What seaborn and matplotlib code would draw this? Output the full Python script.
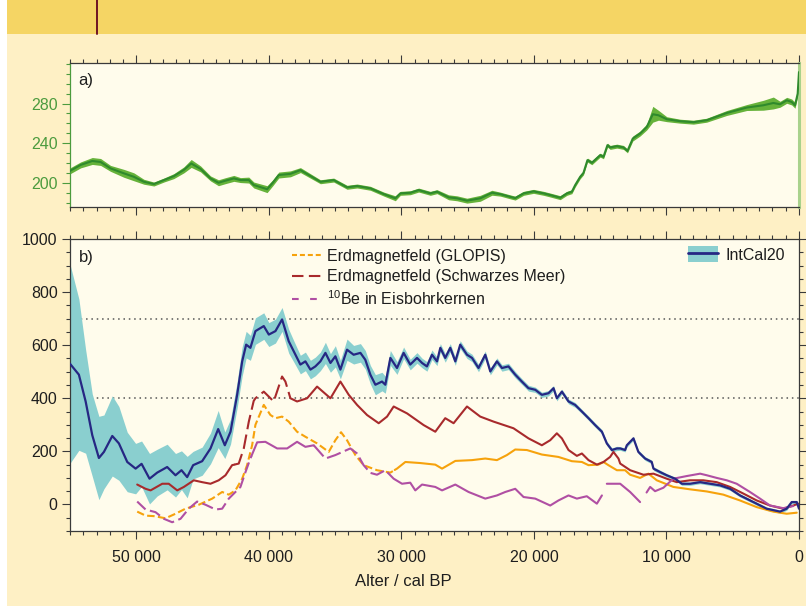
import numpy as np
import matplotlib
matplotlib.use("Agg")
import matplotlib.pyplot as plt
from matplotlib.patches import Rectangle, Patch
from matplotlib.lines import Line2D
from matplotlib.ticker import MultipleLocator, FuncFormatter, FixedLocator
import seaborn as sns

sns.set_theme(style="white")
plt.rcParams["font.family"] = ["Liberation Sans", "DejaVu Sans"]
plt.rcParams["mathtext.fontset"] = "custom"
plt.rcParams["mathtext.rm"] = "Liberation Sans"
plt.rcParams["lines.solid_joinstyle"] = "round"
plt.rcParams["lines.dash_joinstyle"] = "round"

# ---------------- data ----------------
# panel a) (green curve with uncertainty band)
top_age = [55000, 54200, 53320, 52690, 51940, 50930, 50180, 49425, 48670, 47920,
           47165, 46410, 45855, 45150, 44400, 43800, 43300, 42640, 42140, 41510,
           41130, 40130, 39700, 39250, 38370, 37615, 36110, 35105, 34095, 33340,
           32340, 31335, 30455, 30075, 29325, 28695, 27815, 27310, 26435, 25805,
           25050, 24045, 23165, 22540, 21660, 21410, 20780, 20030, 19270, 18770,
           18015, 17510, 17135, 16885, 16510, 16260, 15960, 15630, 15000, 14750,
           14450, 14245, 13740, 13245, 12940, 12540, 11985, 11485, 11030, 10605,
           9975, 8970, 7965, 6960, 5450, 3940, 2690, 1935, 1430, 925,
           550, 300, 100, 0]
top_val = [212, 218, 222, 221, 214.5, 209.5, 206, 201, 198.7, 202.7,
           206.7, 213, 219.5, 214, 204.4, 200, 202, 204.4, 202.7, 202.7,
           197.7, 193.5, 200, 207.8, 209, 212.8, 201, 202.7, 195.4, 196.7,
           194.4, 188.6, 184.3, 189.3, 189.9, 192.6, 189.3, 191, 185.3, 184.3,
           181.9, 184.3, 189.9, 188.5, 185.3, 184.5, 189.3, 191.3, 189.3, 187.6,
           184.9, 189.3, 191, 197.7, 206, 210, 222.9, 220.2, 227.9, 226.2,
           238, 235.7, 237, 235.7, 232.2, 244.7, 249.8, 256.4, 269.2, 268.2,
           264.2, 262.2, 261.2, 263.2, 270.5, 276, 278.3, 280.6, 279.3, 283.3,
           281.6, 278.3, 290, 311.8]
top_sigma = [3, 3, 3.5, 3.5, 3, 4, 4, 2.5, 2, 2,
             2.5, 3, 4, 3, 2.5, 3, 3, 3, 2.5, 3,
             3, 3.5, 3, 3, 3, 2.5, 2, 2, 2, 2,
             2, 2, 2.5, 2, 2, 2, 2, 2, 2.5, 2.5,
             2.5, 3, 2.5, 2, 2, 2, 2, 2, 2, 2,
             2, 2, 2, 2, 2, 2, 2, 2, 2, 2,
             2, 2, 2, 2, 2, 2.5, 2.5, 3, 8, 5,
             2.5, 2, 2, 2, 2.5, 3, 5, 6, 3, 3,
             3, 3, 3, 3]

# panel b) IntCal20 mean and 1-sigma
intcal_age = [55000, 54330, 53820, 53320, 52820, 52440, 51810, 51310, 50680, 50050,
              49600, 49000, 48420, 47670, 47040, 46590, 46160, 45710, 45030, 44400,
              43820, 43320, 42890, 42390, 42010, 41710, 41390, 41010, 40380, 40000,
              39500, 39000, 38500, 38120, 37620, 37240, 36860, 36490, 36110, 35730,
              35350, 34980, 34600, 34100, 33600, 33090, 32720, 32340, 31960, 31460,
              31210, 30830, 30330, 29830, 29330, 28820, 28440, 28070, 27690, 27310,
              27060, 26690, 26310, 25930, 25560, 25050, 24670, 24180, 23670, 23290,
              22790, 22410, 21920, 21410, 20910, 20410, 19900, 19400, 18900, 18520,
              18270, 17890, 17390, 16890, 16380, 15880, 15380, 14870, 14500, 14120,
              13740, 13490, 13120, 12990, 12490, 12120, 11610, 11110, 10980, 10480,
              9980, 9350, 8840, 8220, 7460, 6710, 5960, 5200, 4450, 3440,
              2440, 1430, 930, 550, 170, 0]
intcal_mean = [530, 489, 388, 261, 175, 198, 258, 230, 160, 135,
               153, 97, 120, 141, 110, 129, 103, 148, 163, 211,
               284, 223, 274, 413, 539, 602, 590, 653, 672, 640,
               653, 697, 615, 577, 527, 539, 508, 520, 539, 571,
               533, 558, 508, 583, 564, 571, 545, 489, 451, 463,
               451, 552, 514, 571, 527, 552, 533, 520, 564, 539,
               590, 552, 590, 539, 602, 564, 552, 514, 564, 501,
               539, 514, 520, 489, 463, 438, 432, 413, 419, 438,
               400, 425, 388, 375, 350, 325, 299, 274, 230, 205,
               211, 211, 205, 223, 249, 198, 173, 160, 135, 122,
               110, 97, 78, 78, 84, 78, 72, 59, 34, 9,
               -16, -27, -16, 9, 9, -16]
intcal_sigma = [375, 285, 195, 155, 157, 139, 151, 139, 112, 95,
                86, 95, 88, 86, 82, 73, 78, 52, 53, 58,
                70, 50, 47, 49, 55, 50, 47, 50, 50, 45,
                45, 45, 45, 40, 35, 35, 35, 35, 35, 40,
                35, 40, 35, 40, 35, 35, 35, 35, 38, 35,
                32, 28, 24, 22, 20, 20, 18, 18, 18, 16,
                16, 16, 16, 15, 15, 14, 14, 14, 14, 13,
                13, 12, 12, 12, 11, 11, 10, 10, 10, 10,
                10, 9, 9, 9, 8, 8, 8, 8, 8, 8,
                8, 7, 7, 7, 7, 7, 7, 7, 7, 7,
                6, 6, 6, 6, 6, 6, 6, 6, 6, 6,
                6, 6, 6, 6, 6, 6]

# geomagnetic field reconstruction GLOPIS
glopis_age = [49930, 49300, 48670, 47790, 47040, 46290, 45280, 44270, 43520, 43020,
              42520, 42010, 41640, 41260, 41010, 40380, 39880, 39500, 39000, 38500,
              37870, 37240, 36360, 35480, 34980, 34550, 34100, 33470, 32850, 31840,
              30830, 30330, 29700, 28570, 27440, 26930, 25930, 24670, 23670, 22790,
              22040, 21410, 20530, 19400, 18150, 17140, 16380, 15880, 15130, 14750,
              14380, 13740, 13120, 12740, 11990, 11360, 10730, 9480, 8220, 6960,
              5710, 4450, 3190, 1940, 930, 170]
glopis_val = [-27, -42, -44, -52, -35, -16, -1, 22, 47, 37,
              53, 97, 148, 223, 300, 375, 337, 325, 331, 312,
              274, 255, 230, 198, 242, 272, 242, 186, 148, 129,
              120, 135, 160, 156, 150, 135, 164, 167, 173, 167,
              186, 207, 205, 188, 179, 163, 160, 148, 150, 160,
              148, 129, 129, 112, 100, 116, 91, 66, 57, 49,
              37, 15, -10, -27, -35, -31]

# geomagnetic field, Black Sea record
bsea_age = [49930, 49300, 48920, 48040, 47550, 46910, 46410, 45660, 45030, 44400,
            43780, 43270, 42770, 42270, 41890, 41510, 41140, 41010, 40380, 39630,
            39000, 38750, 38370, 37870, 37110, 36360, 35350, 34600, 33970, 33340,
            32590, 31710, 31080, 30580, 29570, 28320, 27440, 26690, 26060, 25050,
            24050, 23040, 21540, 20410, 19400, 18770, 18270, 17890, 17390, 16760,
            16380, 15880, 15250, 14750, 14250, 14000, 13620, 13490, 12740, 11740,
            10980, 9980, 9220, 8220, 7220, 6210, 5200, 4200, 3190, 2190,
            1190, 430, 50]
bsea_val = [75, 59, 53, 78, 78, 53, 66, 91, 84, 78,
            91, 110, 148, 154, 211, 312, 390, 400, 425, 388,
            482, 463, 400, 388, 400, 444, 400, 463, 413, 375,
            337, 306, 331, 369, 343, 299, 274, 325, 306, 369,
            331, 312, 287, 249, 223, 242, 268, 249, 205, 183,
            192, 167, 150, 160, 179, 198, 173, 154, 129, 112,
            116, 97, 84, 91, 91, 84, 66, 41, 15, -4,
            -16, -4, 3]

# 10Be from ice cores
be10_age = [49930, 49300, 48550, 47920, 47290, 46660, 46040, 45410, 44780, 44020,
            43520, 43020, 42520, 42140, 41760, 41390, 40880, 40260, 39370, 38620,
            37870, 37240, 36610, 35730, 34980, 33850, 33340, 32850, 32340, 31840,
            31210, 30580, 29950, 29330, 28950, 28440, 27440, 26930, 25930, 24930,
            23670, 22790, 22160, 21410, 20780, 19900, 18770, 18150, 17390, 16760,
            16010, 15250, 14870, 14500, 13870, 13490, 12740, 11990, 11500, 11230,
            10860, 10230, 9480, 8470, 7460, 6960, 6210, 5450, 4700, 3700,
            2940, 2190, 1190, 430]
be10_val = [11, -19, -29, -54, -67, -54, -16, 11, -1, -19,
            -16, 22, 47, 66, 122, 173, 234, 236, 211, 211,
            236, 217, 223, 173, 186, 211, 192, 148, 119, 112,
            129, 97, 78, 82, 53, 75, 66, 53, 75, 47,
            22, 34, 47, 59, 28, 22, -4, 15, 34, 22,
            31, 3, 34, 78, 78, 78, 47, 9, 45, 66,
            50, 63, 97, 107, 116, 110, 100, 91, 78, 47,
            22, -4, -14, -6]

guide_levels = [400, 700]
xtick_major = [50000, 40000, 30000, 20000, 10000, 0]

series_labels = ["Erdmagnetfeld (GLOPIS)", "Erdmagnetfeld (Schwarzes Meer)",
                 r"$^{\mathregular{10}}$Be in Eisbohrkernen", "IntCal20"]

# ---------------- colours ----------------
C_BLUE = "#262783"
C_BAND = "#8ACFCF"
C_RED = "#A82A2C"
C_ORANGE = "#F6A20C"
C_MAG = "#B04FA3"
C_GREEN = "#2F8A2C"
C_GREEN_BAND = "#66B23A"
C_GREEN_TXT = "#4C9B3E"
C_TXT = "#1E1E1E"
C_AX = "#3A3A3A"

W, H = 806, 606
fig = plt.figure(figsize=(W / 100, H / 100), dpi=100, facecolor="white")
fig.patches.append(Rectangle((7 / W, 0), 1, 1 - 34 / H, transform=fig.transFigure,
                             facecolor="#FEF0C5", edgecolor="none", zorder=-10))
fig.patches.append(Rectangle((7 / W, 1 - 34 / H), 1, 34 / H, transform=fig.transFigure,
                             facecolor="#F5D564", edgecolor="none", zorder=-10))
fig.add_artist(Line2D([97 / W, 97 / W], [1 - 34 / H, 1], transform=fig.transFigure,
                      color="#6E1423", lw=1.4))

ax_a = fig.add_axes([70 / W, 1 - 207 / H, 729 / W, 144 / H])
ax_b = fig.add_axes([70 / W, 1 - 531 / H, 729 / W, 292 / H])
for ax in (ax_a, ax_b):
    ax.set_facecolor("#FFFCEC")


def draw_pieces(ax, age, val, color, pieces, lw=1.5):
    """Draw a curve in age pieces, each piece solid ('-') or with a dash pattern."""
    age = np.asarray(age, float)
    val = np.asarray(val, float)
    xa, ya = age[::-1], val[::-1]
    for older, younger, style in pieces:
        older = min(older, age.max())
        younger = max(younger, age.min())
        inside = (age < older) & (age > younger)
        xs = np.concatenate([[older], age[inside], [younger]])
        ys = np.concatenate([[np.interp(older, xa, ya)], val[inside],
                             [np.interp(younger, xa, ya)]])
        ls = "-" if style == "-" else (0, style)
        sns.lineplot(x=xs, y=ys, ax=ax, color=color, linewidth=lw, sort=False,
                     estimator=None, linestyle=ls, solid_capstyle="round",
                     dash_capstyle="butt")


# ---------------- panel a ----------------
ta = np.asarray(top_age, float)
tv = np.asarray(top_val, float)
ts = np.asarray(top_sigma, float)
ax_a.fill_between(ta, tv - ts, tv + ts, color=C_GREEN_BAND, lw=0, zorder=2)
sns.lineplot(x=ta, y=tv, ax=ax_a, color=C_GREEN, linewidth=1.5, sort=False,
             estimator=None, zorder=3)
ax_a.set_xlim(55000, 0)
ax_a.set_ylim(175.5, 321)
ax_a.yaxis.set_major_locator(FixedLocator([200, 240, 280]))
ax_a.yaxis.set_minor_locator(MultipleLocator(10))
ax_a.xaxis.set_major_locator(MultipleLocator(10000))
ax_a.xaxis.set_minor_locator(MultipleLocator(1000))
ax_a.tick_params(axis="x", which="both", direction="out", top=True, bottom=True,
                 labelbottom=False, color=C_AX, width=0.8)
ax_a.tick_params(axis="y", which="both", direction="out", left=True, right=False,
                 color=C_GREEN_TXT, labelcolor=C_GREEN_TXT, labelsize=11.5, width=0.8,
                 pad=3)
for ax in (ax_a, ax_b):
    ax.tick_params(which="major", length=6)
    ax.tick_params(which="minor", length=3)
ax_a.spines["left"].set_color(C_GREEN_TXT)
ax_a.spines["right"].set_color("#A9D28C")
ax_a.spines["right"].set_linewidth(2.2)
for s in ("top", "bottom"):
    ax_a.spines[s].set_color(C_AX)
    ax_a.spines[s].set_linewidth(0.9)
ax_a.spines["left"].set_linewidth(0.9)
ax_a.set_xlabel("")
ax_a.set_ylabel("")
ax_a.text(0.012, 0.88, "a)", transform=ax_a.transAxes, fontsize=12, color=C_TXT,
          va="center", ha="left")

# ---------------- panel b ----------------
ia = np.asarray(intcal_age, float)
im = np.asarray(intcal_mean, float)
isg = np.asarray(intcal_sigma, float)
ax_b.fill_between(ia, im - isg, im + isg, color=C_BAND, lw=0, zorder=2)
for lvl in guide_levels:
    ax_b.axhline(lvl, color="#555555", lw=1.1, linestyle=(0, (1, 2.5)), zorder=1)

draw_pieces(ax_b, glopis_age, glopis_val, C_ORANGE,
            [(50000, 30500, (3.6, 1.6)), (30500, 0, "-")])
draw_pieces(ax_b, bsea_age, bsea_val, C_RED,
            [(50000, 42600, "-"), (42600, 37800, (7, 2.6)), (37800, 0, "-")])
draw_pieces(ax_b, be10_age, be10_val, C_MAG,
            [(50000, 41300, (5.5, 2.2)), (41300, 36600, "-"), (36600, 31000, (7, 2.2)),
             (31000, 14870, "-"), (14500, 11990, "-"), (11500, 0, "-")])
sns.lineplot(x=ia, y=im, ax=ax_b, color=C_BLUE, linewidth=1.6, sort=False,
             estimator=None, zorder=6)

ax_b.set_xlim(55000, 0)
ax_b.set_ylim(-100, 1000)
ax_b.yaxis.set_major_locator(MultipleLocator(200))
ax_b.yaxis.set_minor_locator(MultipleLocator(50))
ax_b.xaxis.set_major_locator(FixedLocator(xtick_major))
ax_b.xaxis.set_minor_locator(MultipleLocator(1000))
ax_b.xaxis.set_major_formatter(FuncFormatter(lambda v, _: f"{int(round(v)):,}".replace(",", " ")))
ax_b.tick_params(axis="both", which="both", direction="out", color=C_AX, width=0.8,
                 labelcolor=C_TXT, labelsize=11.5)
ax_b.tick_params(axis="x", which="both", top=True, bottom=True, pad=8)
ax_b.tick_params(axis="y", which="both", left=True, right=True, pad=3)
ax_b.tick_params(which="major", length=6)
ax_b.tick_params(which="minor", length=3)
for s in ax_b.spines.values():
    s.set_color(C_AX)
    s.set_linewidth(0.9)
ax_b.set_xlabel("")
ax_b.set_ylabel("")
ax_b.text(0.012, 0.935, "b)", transform=ax_b.transAxes, fontsize=12, color=C_TXT,
          va="center", ha="left")
fig.text(403 / W, 1 - 581 / H, "Alter / cal BP", fontsize=12, color=C_TXT,
         ha="center", va="center")

# legends
h_glopis = Line2D([], [], color=C_ORANGE, lw=1.5, linestyle=(0, (2.4, 1.4)))
h_bsea = Line2D([], [], color=C_RED, lw=1.5, linestyle=(0, (5.5, 2.6)))
h_be = Line2D([], [], color=C_MAG, lw=1.5, linestyle=(0, (3.2, 5.5)))
leg1 = ax_b.legend([h_glopis, h_bsea, h_be], series_labels[:3], loc="upper left",
                   bbox_to_anchor=(292 / W, 1 - 249 / H), bbox_transform=fig.transFigure,
                   frameon=False, fontsize=11.5, handlelength=1.9, handletextpad=0.32,
                   borderpad=0, borderaxespad=0, labelspacing=0.32, labelcolor=C_TXT)
ax_b.add_artist(leg1)
h_ic = (Patch(facecolor=C_BAND, edgecolor="none"), Line2D([], [], color=C_BLUE, lw=2))
ax_b.legend([h_ic], series_labels[3:], loc="upper left",
            bbox_to_anchor=(688 / W, 1 - 246 / H), bbox_transform=fig.transFigure,
            frameon=False, fontsize=11.5, handlelength=1.9, handleheight=1.2,
            handletextpad=0.45, borderpad=0, borderaxespad=0, labelcolor=C_TXT)

fig.savefig("out.png", dpi=100, facecolor=fig.get_facecolor())
